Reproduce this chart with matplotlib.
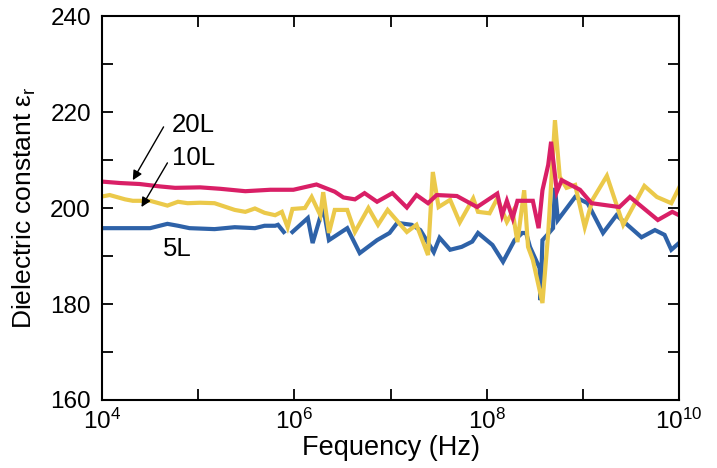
import numpy as np
import matplotlib
matplotlib.use("Agg")
from matplotlib import pyplot as plt
from matplotlib.ticker import FixedLocator, NullLocator

plt.rcParams['font.family'] = ['Liberation Sans', 'DejaVu Sans']

# log10 of frequency (Hz) and dielectric constant for each sample
lf_20L = [4.00, 4.19, 4.39, 4.60, 4.76, 5.02, 5.23, 5.49, 5.75, 5.99, 6.23, 6.42,
          6.51, 6.63, 6.73, 6.86, 7.02, 7.17, 7.27, 7.39, 7.48, 7.69, 7.90, 8.11,
          8.16, 8.21, 8.27, 8.32, 8.48, 8.54, 8.58, 8.64, 8.67, 8.73, 8.78, 8.97,
          9.09, 9.38, 9.49, 9.78, 9.93, 10.00]
er_20L = [205.5, 205.2, 205.0, 204.5, 204.2, 204.3, 204.0, 203.5, 203.8, 203.8,
          204.9, 203.4, 202.2, 201.8, 203.1, 201.3, 203.1, 200.1, 202.7, 201.0,
          202.7, 202.5, 200.2, 203.0, 198.5, 201.5, 197.9, 201.5, 201.5, 195.8,
          203.7, 209.0, 213.8, 203.4, 205.8, 203.8, 201.0, 200.2, 202.3, 197.5,
          199.2, 198.5]

lf_10L = [4.00, 4.08, 4.24, 4.32, 4.50, 4.68, 4.79, 4.89, 5.02, 5.17, 5.38, 5.49,
          5.59, 5.69, 5.80, 5.87, 5.93, 5.98, 6.11, 6.18, 6.27, 6.30, 6.36, 6.42,
          6.55, 6.63, 6.77, 6.87, 6.97, 7.17, 7.27, 7.39, 7.44, 7.50, 7.62, 7.72,
          7.86, 7.91, 8.03, 8.11, 8.21, 8.27, 8.32, 8.39, 8.43, 8.48, 8.58, 8.64,
          8.71, 8.76, 8.83, 8.92, 9.02, 9.10, 9.25, 9.42, 9.64, 9.77, 9.92, 10.00]
er_10L = [202.4, 202.7, 201.8, 201.5, 201.5, 200.5, 201.3, 201.0, 201.1, 201.0,
          199.6, 199.2, 199.9, 199.0, 198.5, 199.2, 196.0, 199.8, 200.0, 202.3,
          198.5, 203.3, 194.8, 199.6, 199.6, 195.0, 200.0, 196.5, 199.6, 195.0,
          196.5, 190.2, 207.5, 200.2, 201.7, 197.0, 202.0, 199.2, 198.9, 202.0,
          197.1, 199.2, 192.9, 203.7, 191.9, 189.2, 180.2, 194.8, 218.3, 206.5,
          204.2, 204.8, 196.0, 201.7, 206.7, 196.5, 204.6, 202.3, 201.0, 204.2]

lf_5L = [4.00, 4.50, 4.68, 4.79, 4.91, 5.17, 5.38, 5.59, 5.69, 5.80, 5.83, 5.89,
         np.nan, 5.98, 6.14, 6.19, 6.30, 6.36, 6.55, 6.68, 6.86, 6.99, 7.07, 7.22,
         7.31, 7.45, 7.51, 7.62, 7.74, 7.85, 7.91, 8.06, 8.17, 8.29, 8.37, 8.41,
         8.45, 8.55, 8.56, 8.58, 8.63, 8.69, 8.71, 8.74, 8.92, 9.05, 9.21, 9.35,
         9.61, 9.75, 9.85, 9.92, 10.00]
er_5L = [195.8, 195.8, 196.7, 196.3, 195.8, 195.6, 196.0, 195.8, 196.3, 196.3,
         196.5, 195.0, np.nan, 195.0, 197.9, 192.7, 200.2, 193.3, 195.8, 190.6,
         193.3, 194.8, 196.9, 196.5, 195.4, 190.8, 193.8, 191.3, 191.9, 193.0,
         194.8, 192.3, 188.8, 193.3, 194.8, 194.8, 191.9, 187.5, 180.8, 193.3,
         194.4, 195.8, 204.2, 197.5, 202.3, 201.0, 194.8, 198.5, 193.9, 195.4,
         194.4, 191.3, 192.7]

ytick_vals = list(range(160, 241, 10))
ytick_text = ['160', '', '180', '', '200', '', '220', '', '240']
xtick_vals = [1e4, 1e5, 1e6, 1e7, 1e8, 1e9, 1e10]
xtick_text = ['$\\mathregular{10^{4}}$', '', '$\\mathregular{10^{6}}$', '',
              '$\\mathregular{10^{8}}$', '', '$\\mathregular{10^{10}}$']

fig = plt.figure(figsize=(7.17, 4.68), dpi=100)
ax = fig.add_axes([0.1423, 0.1453, 0.8047, 0.8205])

ax.plot(10 ** np.array(lf_5L), er_5L, color='#2e62a8', lw=3, solid_joinstyle='miter')
ax.plot(10 ** np.array(lf_10L), er_10L, color='#ebc94a', lw=3, solid_joinstyle='miter')
ax.plot(10 ** np.array(lf_20L), er_20L, color='#d91f66', lw=3, solid_joinstyle='miter')

ax.set_xscale('log')
ax.set_xlim(1e4, 1e10)
ax.set_ylim(160, 240)
ax.xaxis.set_major_locator(FixedLocator(xtick_vals))
ax.xaxis.set_minor_locator(NullLocator())
ax.set_xticklabels(xtick_text)
ax.set_yticks(ytick_vals)
ax.set_yticklabels(ytick_text)
ax.tick_params(direction='in', length=8, width=1.3, labelsize=17.5,
               top=True, right=True)
ax.tick_params(axis='y', pad=8)
ax.tick_params(axis='x', pad=6)
for s in ax.spines.values():
    s.set_linewidth(1.5)

ax.set_xlabel('Fequency (Hz)', fontsize=19.5, labelpad=1)
ax.set_ylabel('Dielectric constant ε$_\\mathregular{r}$', fontsize=19, labelpad=9)

# series labels with pointer arrows
arrow = dict(arrowstyle='-|>', color='black', lw=1, mutation_scale=14,
             shrinkA=0, shrinkB=0)
ax.annotate('', xy=(10 ** 4.32, 205.8), xytext=(10 ** 4.64, 216.9), arrowprops=arrow)
ax.annotate('', xy=(10 ** 4.41, 200.2), xytext=(10 ** 4.68, 209.4), arrowprops=arrow)
ax.text(10 ** 4.73, 215.8, '20L', fontsize=18.5, ha='left', va='baseline')
ax.text(10 ** 4.73, 209.0, '10L', fontsize=18.5, ha='left', va='baseline')
ax.text(10 ** 4.63, 190.0, '5L', fontsize=18.5, ha='left', va='baseline')

fig.savefig('out.png', dpi=100)
